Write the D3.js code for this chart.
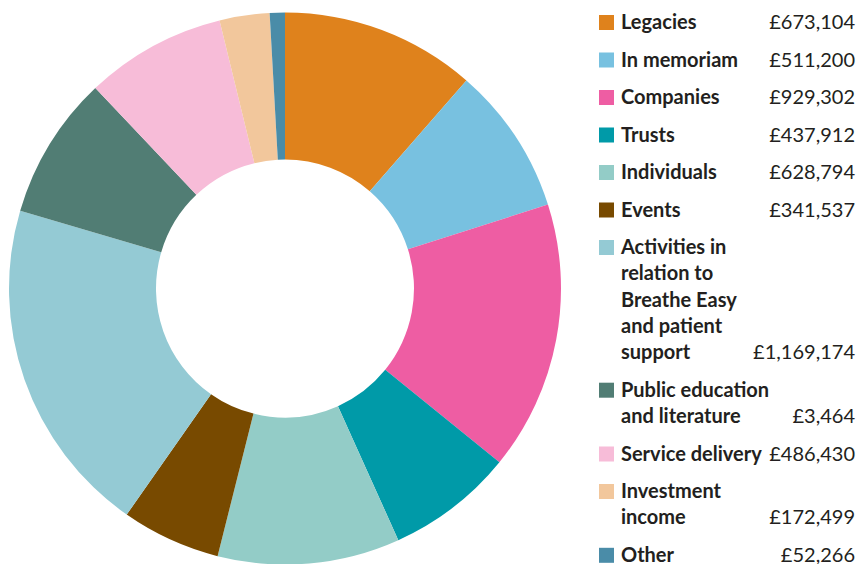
<!DOCTYPE html>
<html>
<head>
<meta charset="utf-8">
<script src="https://cdn.jsdelivr.net/npm/d3@7"></script>
<style>
  body { margin: 0; background: #fff; }
  svg { display: block; }
</style>
</head>
<body>
<div id="chart"></div>
<script>
// income categories, in slice order (clockwise from 12 o'clock)
var categories = [
    ["Legacies"],
    ["In memoriam"],
    ["Companies"],
    ["Trusts"],
    ["Individuals"],
    ["Events"],
    ["Activities in", "relation to", "Breathe Easy", "and patient", "support"],
    ["Public education", "and literature"],
    ["Service delivery"],
    ["Investment", "income"],
    ["Other"]
];

// amounts as printed in the legend
var amountLabels = ["£673,104", "£511,200", "£929,302", "£437,912", "£628,794", "£341,537",
    "£1,169,174", "£3,464", "£486,430", "£172,499", "£52,266"];

// slice sizes as drawn (public education slice is drawn much bigger than its label)
var values = [673104, 511200, 929302, 437912, 628794, 341537, 1169174, 495000, 486430, 172499, 52266];

var colors = ["#df821c", "#78c1e0", "#ee5da3", "#009aa8", "#93ccc7", "#784a00",
    "#94cad4", "#517d74", "#f7bcd8", "#f2c79c", "#4a8ca8"];

var width = 857, height = 564;

var svg = d3.select("#chart").append("svg")
    .attr("width", width)
    .attr("height", height);

// donut
var cx = 285, cy = 288.5;
var outer = 276, inner = 129;

var pie = d3.pie().sort(null).value(d => d);
var arc = d3.arc().innerRadius(inner).outerRadius(outer);

svg.append("g")
    .attr("transform", "translate(" + cx + "," + cy + ")")
    .selectAll("path")
    .data(pie(values))
    .enter().append("path")
    .attr("d", arc)
    .attr("fill", (d, i) => colors[i]);

// legend
var lineH = 26.3, gap = 11.2, firstY = 29;
var legend = svg.append("g").attr("font-family", "Lato, 'Open Sans', sans-serif").attr("font-size", 20);

var nLines = 0;
categories.forEach(function(lab, i){
    var y0 = firstY + nLines * lineH + i * gap;
    var g = legend.append("g");

    g.append("rect")
        .attr("x", 599)
        .attr("y", y0 - 14)
        .attr("width", 15)
        .attr("height", 15)
        .attr("fill", colors[i]);

    g.selectAll("text.name")
        .data(lab)
        .enter().append("text")
        .attr("class", "name")
        .attr("x", 621)
        .attr("y", (d, j) => y0 + j * lineH)
        .attr("font-weight", 700)
        .attr("fill", "#231f20")
        .text(d => d);

    g.append("text")
        .attr("x", 855)
        .attr("y", y0 + (lab.length - 1) * lineH)
        .attr("text-anchor", "end")
        .attr("fill", "#231f20")
        .text(amountLabels[i]);

    nLines += lab.length;
});
</script>
</body>
</html>
